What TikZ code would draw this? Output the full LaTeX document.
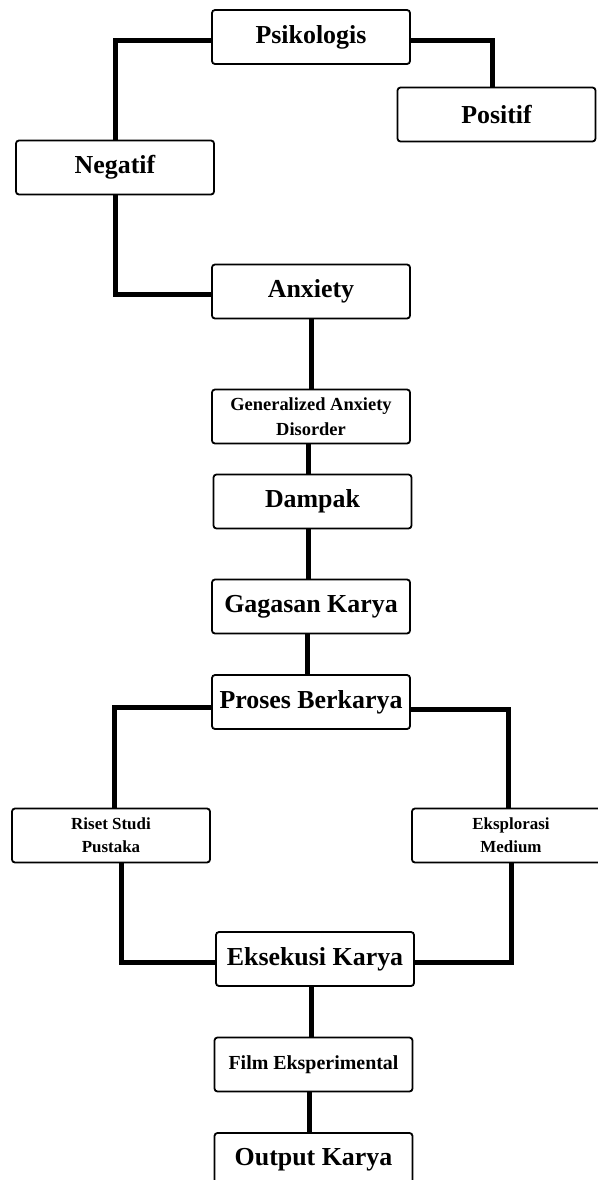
\documentclass[tikz,border=0pt]{standalone}
\usepackage{fontspec}
\setmainfont{Liberation Serif}
\usepackage{tikz}

\begin{document}
\begin{tikzpicture}[x={(1bp,0bp)},y={(0bp,-1bp)},
    box/.style={draw,line width=1.8bp,rounded corners=3bp,fill=white,
      minimum width=198bp,minimum height=54bp,inner sep=0pt,align=center,
      font=\bfseries\fontsize{26}{30}\selectfont},
    small/.style={font=\bfseries\fontsize{18.5}{25}\selectfont},
    tiny/.style={font=\bfseries\fontsize{17}{23.5}\selectfont},
    link/.style={line width=5bp}]
  \useasboundingbox (0,0) rectangle (598,1180);
  % boxes
  \node[box] (psi) at (311,37) {Psikologis};
  \node[box] (pos) at (496.5,114.5) {Positif};
  \node[box] (neg) at (115,167.5) {Negatif};
  \node[box] (anx) at (311,291.5) {Anxiety};
  \node[box,small] (gad) at (311,416.5) {Generalized Anxiety\\Disorder};
  \node[box] (dam) at (312.5,501.5) {Dampak};
  \node[box] (gag) at (311,606.5) {Gagasan Karya};
  \node[box] (pro) at (311,702) {Proses Berkarya};
  \node[box,tiny] (ris) at (111,835.5) {Riset Studi\\Pustaka};
  \node[box,tiny] (eks) at (511,835.5) {Eksplorasi\\Medium};
  \node[box] (exe) at (315,959) {Eksekusi Karya};
  \node[box,font=\bfseries\fontsize{20}{24}\selectfont] (film) at (313.5,1064.5) {Film Eksperimental};
  \node[box] (out) at (313.5,1160) {Output Karya};
  % connectors
  \draw[link] ([yshift=-3bp]psi.west) -| (neg.north);
  \draw[link] ([yshift=-3bp]psi.east) -| ([xshift=-4.5bp]pos.north);
  \draw[link] (neg.south) |- ([yshift=-2.5bp]anx.west);
  \draw[link] (anx.south) -- (anx.south |- gad.north);
  \draw[link] ([xshift=-3bp]gad.south) -- ([xshift=-3bp]gad.south |- dam.north);
  \draw[link] ([xshift=-4.5bp]dam.south) -- ([xshift=-4.5bp]dam.south |- gag.north);
  \draw[link] ([xshift=-4bp]gag.south) -- ([xshift=-4bp]gag.south |- pro.north);
  \draw[link] ([yshift=-5bp]pro.west) -| ([xshift=3.5bp]ris.north);
  \draw[link] ([yshift=-7bp]pro.east) -| ([xshift=-3bp]eks.north);
  \draw[link] ([xshift=10bp]ris.south) |- ([yshift=-3bp]exe.west);
  \draw[link] (eks.south) |- ([yshift=-3bp]exe.east);
  \draw[link] ([xshift=-4bp]exe.south) -- ([xshift=-4bp]exe.south |- film.north);
  \draw[link] ([xshift=-4.5bp]film.south) -- ([xshift=-4.5bp]film.south |- out.north);
\end{tikzpicture}
\end{document}
